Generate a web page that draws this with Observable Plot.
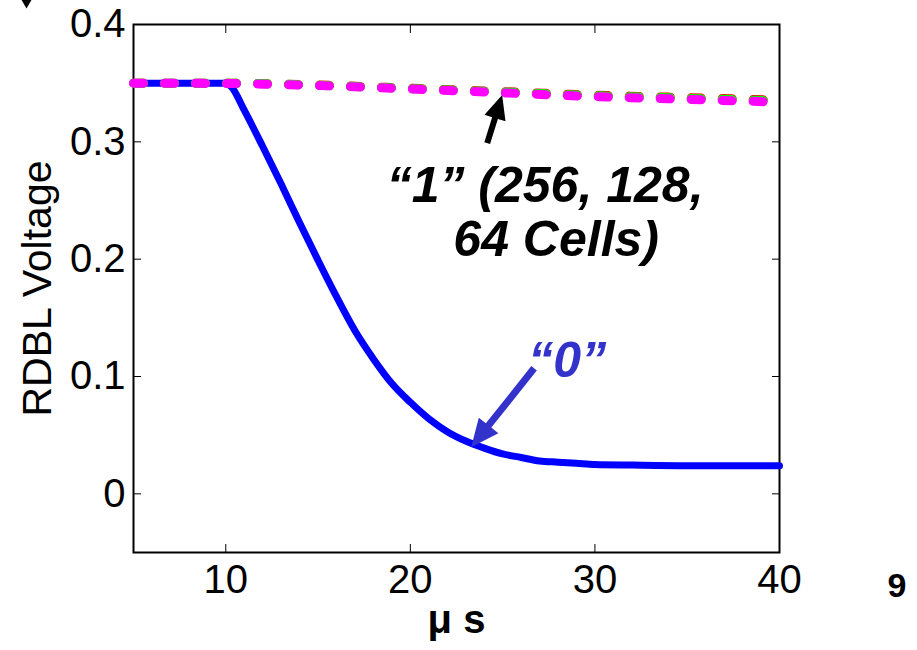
<!DOCTYPE html>
<html>
<head>
<meta charset="utf-8">
<script src="https://cdn.jsdelivr.net/npm/d3@7"></script>
<script src="https://cdn.jsdelivr.net/npm/@observablehq/plot@0.6"></script>
<style>
  html, body { margin: 0; padding: 0; background: #fff; }
  #chart { width: 917px; height: 650px; overflow: hidden; }
  #chart svg { font-family: "Liberation Sans", Arial, Helvetica, sans-serif; }
</style>
</head>
<body>
<div id="chart"></div>
<script>
// Time axis (µs) and read-bitline voltages
const timeZero = [5, 10, 10.3, 11, 12, 13, 14, 15, 16, 17, 18, 19, 20, 21, 22, 23, 24, 25, 26, 27, 28, 29, 30, 32, 35, 40];
const voltZero = [0.35, 0.35, 0.347, 0.327, 0.296, 0.264, 0.231, 0.199, 0.168, 0.139, 0.115, 0.094, 0.078, 0.064, 0.053, 0.045, 0.039, 0.034, 0.031, 0.028, 0.027, 0.026, 0.025, 0.0245, 0.024, 0.024];

const timeOne = [5, 10, 15, 20, 25, 30, 35, 40];
const voltOne256 = [0.35, 0.35, 0.3484, 0.3457, 0.3428, 0.3398, 0.3377, 0.3355];
const voltOne128 = [0.35, 0.35, 0.3482, 0.3454, 0.3424, 0.3393, 0.3371, 0.3349];
const voltOne64  = [0.35, 0.3497, 0.348, 0.345, 0.3418, 0.3385, 0.3362, 0.3338];

const xTicks = [10, 20, 30, 40];
const yTicks = [0, 0.1, 0.2, 0.3, 0.4];

// Annotation anchors: [time, voltage]
const oneArrowTail = [24.19, 0.2985];
const oneArrowHead = [25.0, 0.3394];
const zeroArrowTail = [26.73, 0.1066];
const zeroArrowHead = [23.32, 0.0392];
const oneLabel1 = {x: 27.3, y: 0.262, text: "\u201c1\u201d (256, 128,"};
const oneLabel2 = {x: 27.9, y: 0.216, text: "64 Cells)"};
const zeroLabel = {x: 28.5, y: 0.113, text: "\u201c0\u201d"};

const zeroRows = timeZero.map((t, i) => ({t, v: voltZero[i]}));
const mk = (vals) => timeOne.map((t, i) => ({t, v: vals[i]}));

// Filled block arrow drawn through the plot scales
function blockArrow(tail, head, color, shaftW, headL, headW) {
  return (index, scales) => {
    const x1 = scales.x(tail[0]), y1 = scales.y(tail[1]);
    const x2 = scales.x(head[0]), y2 = scales.y(head[1]);
    const len = Math.hypot(x2 - x1, y2 - y1);
    const ux = (x2 - x1) / len, uy = (y2 - y1) / len;
    const nx = -uy, ny = ux;
    const bx = x2 - ux * headL, by = y2 - uy * headL;
    const pts = [
      [x1 + nx * shaftW / 2, y1 + ny * shaftW / 2],
      [bx + nx * shaftW / 2, by + ny * shaftW / 2],
      [bx + nx * headW / 2, by + ny * headW / 2],
      [x2, y2],
      [bx - nx * headW / 2, by - ny * headW / 2],
      [bx - nx * shaftW / 2, by - ny * shaftW / 2],
      [x1 - nx * shaftW / 2, y1 - ny * shaftW / 2]
    ];
    const g = d3.create("svg:g");
    g.append("polygon").attr("points", pts.map(p => p.join(",")).join(" ")).attr("fill", color);
    return g.node();
  };
}

const dashed = {x: "t", y: "v", strokeWidth: 9, strokeDasharray: "10,21", strokeLinecap: "round", curve: "monotone-x"};
const annot = {fontSize: 50, fontWeight: "bold", fontStyle: "italic", textAnchor: "middle"};
const yFmt = d => d === 0 ? "0" : d3.format(".1f")(d);

const plot = Plot.plot({
  width: 917,
  height: 650,
  marginLeft: 133,
  marginRight: 138,
  marginTop: 24,
  marginBottom: 98,
  style: {fontSize: "40px", color: "#000", background: "#fff", overflow: "visible"},
  x: {domain: [5, 40]},
  y: {domain: [-0.05, 0.4]},
  marks: [
    Plot.frame({stroke: "#000", strokeWidth: 2}),
    Plot.axisX({anchor: "bottom", ticks: xTicks, tickSize: -8, tickPadding: 20, fontSize: 40, label: null}),
    Plot.axisX({anchor: "top", ticks: xTicks, tickSize: -8, tickFormat: () => "", label: null}),
    Plot.axisY({anchor: "left", ticks: yTicks, tickSize: -8, tickPadding: 16, fontSize: 40, tickFormat: yFmt, label: null}),
    Plot.axisY({anchor: "right", ticks: yTicks, tickSize: -8, tickFormat: () => "", label: null}),
    Plot.line(zeroRows, {x: "t", y: "v", stroke: "#0000ff", strokeWidth: 7, curve: "monotone-x"}),
    Plot.line(mk(voltOne256), {...dashed, stroke: "#ff0000"}),
    Plot.line(mk(voltOne128), {...dashed, stroke: "#00ff00"}),
    Plot.line(mk(voltOne64), {...dashed, stroke: "#ff00ff"}),
    blockArrow(oneArrowTail, oneArrowHead, "#000", 6, 24, 22),
    blockArrow(zeroArrowTail, zeroArrowHead, "#3333cc", 7, 28, 25),
    Plot.text([oneLabel1], {x: "x", y: "y", text: "text", fill: "#000", ...annot}),
    Plot.text([oneLabel2], {x: "x", y: "y", text: "text", fill: "#000", ...annot}),
    Plot.text([zeroLabel], {x: "x", y: "y", text: "text", fill: "#3333cc", ...annot}),
    Plot.text(["RDBL Voltage"], {frameAnchor: "left", dx: -96, rotate: -90, textAnchor: "middle", fontSize: 41, fill: "#000"}),
    Plot.text(["\u03bc s"], {frameAnchor: "bottom", dy: 80, fontSize: 40, fontWeight: "bold", fill: "#000"}),
    Plot.text(["9"], {frameAnchor: "bottom-right", dx: 127, dy: 44, fontSize: 34, fontWeight: "bold", fill: "#000"}),
    Plot.dot([0], {frameAnchor: "top-left", dx: -107, dy: -28, symbol: "triangle2", rotate: 180, r: 10, fill: "#000"})
  ]
});
document.getElementById("chart").appendChild(plot);
</script>
</body>
</html>
